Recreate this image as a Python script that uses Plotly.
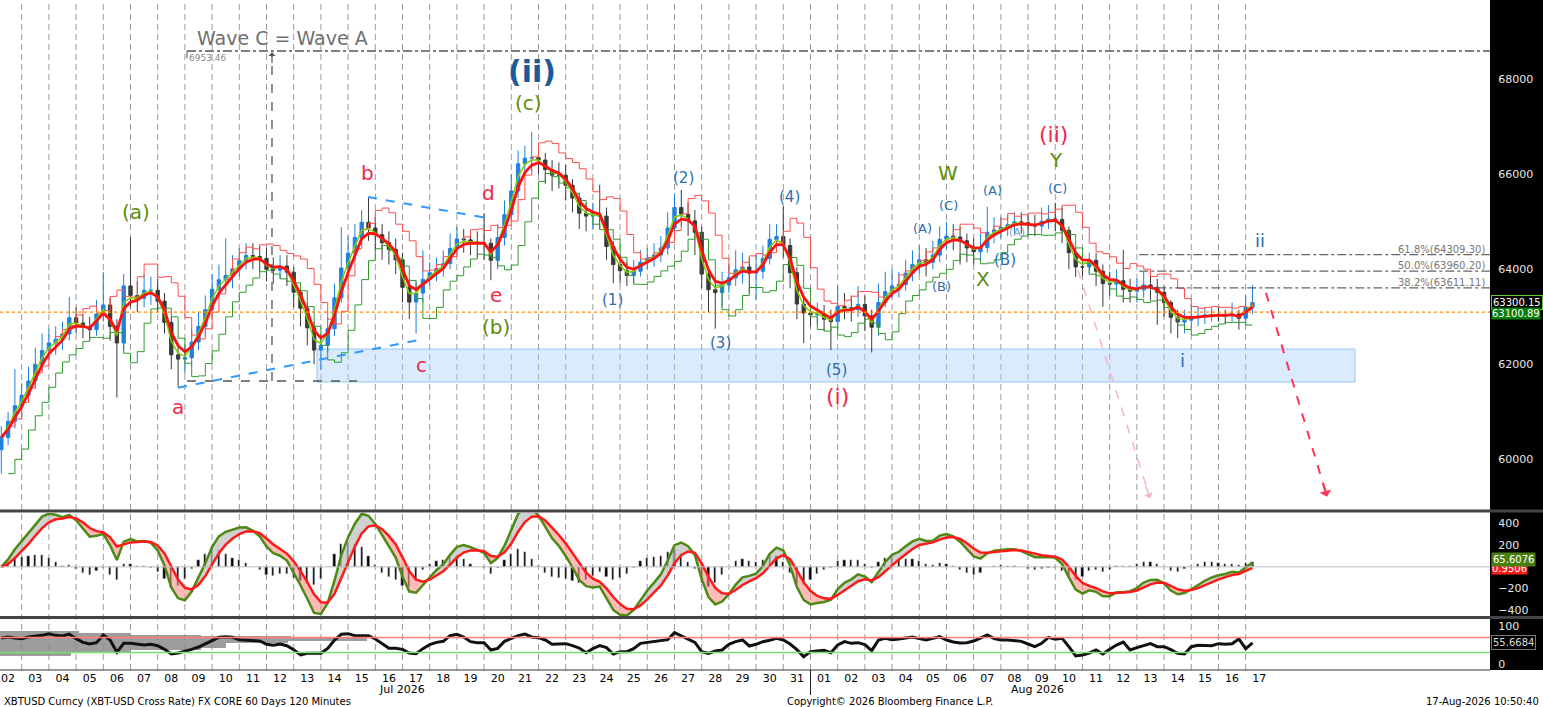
import numpy as np
import pandas as pd
import plotly.graph_objects as go

# 6-hour bars, XBTUSD
bar_start = "2026-07-02 06:00"
first_open = 60200
closes = [
    60460, 60800, 61130, 61350, 61650, 62000, 62290, 62450, 62530, 62640,
    62980, 62870, 62790, 62730, 63060, 63250, 62800, 62450, 63650, 63450,
    63390, 63560, 63560, 63330, 62880, 62200, 62110, 62140, 62470, 62800,
    63150, 63580, 63780, 63870, 64010, 64180, 64290, 64270, 64230, 64000,
    63980, 64070, 63940, 63520, 63180, 62770, 62300, 62400, 62750, 63400,
    64030, 64340, 64670, 64990, 64870, 64730, 64560, 64420, 64200, 63620,
    63310, 63500, 63790, 63930, 64020, 64120, 64440, 64640, 64620, 64570,
    64550, 64550, 64190, 64670, 65150, 65650, 66220, 66340, 66350, 66300,
    66100, 65980, 65980, 65770, 65500, 65180, 65120, 65130, 65120, 64480,
    64100, 63970, 63870, 63960, 64150, 64230, 64300, 64450, 64870, 65300,
    65160, 65020, 64780, 63900, 63570, 63510, 63670, 63820, 63990, 64050,
    63920, 63960, 64230, 64630, 64690, 64500, 63930, 63270, 63080, 63040,
    63060, 62950, 62900, 63220, 63190, 63150, 63260, 63020, 62780, 63300,
    63530, 63650, 63680, 63920, 64100, 64200, 64150, 64300, 64630, 64700,
    64680, 64600, 64450, 64370, 64460, 64780, 64830, 64880, 64940, 65000,
    64980, 64940, 64910, 65010, 65060, 65050, 64820, 64350, 64050, 64050,
    64190, 63960, 63700, 63690, 63760, 63580, 63540, 63570, 63670, 63620,
    63520, 63300, 62990, 62890, 62930, 62980, 63010, 63040, 63050, 63040,
    63020, 63060, 62970, 63200, 63300.15,
]
highs = [
    60700, 61000, 61900, 61600, 61950, 62350, 62650, 62750, 62800, 62900,
    63420, 63200, 63050, 63000, 63350, 63940, 63400, 62950, 63900, 64680,
    63750, 63900, 63850, 63800, 63500, 63000, 62450, 62400, 62750, 63100,
    63450, 63900, 64100, 64650, 64300, 64450, 64550, 64550, 64500, 64450,
    64250, 64300, 64300, 64050, 63700, 63300, 62900, 62650, 63000, 63700,
    64890, 64700, 64950, 65250, 65520, 65100, 64950, 64800, 64650, 64350,
    63800, 63750, 64400, 64150, 64250, 64400, 64750, 64900, 64850, 64800,
    64800, 65180, 64650, 64950, 65450, 66000, 66500, 66600, 66890, 66600,
    66450, 66300, 66250, 66200, 65900, 65600, 65400, 65400, 65780, 65300,
    64600, 64300, 64150, 64200, 64400, 64450, 64550, 64700, 65200, 65600,
    65670, 65400, 65250, 64900, 64000, 63800, 63950, 64100, 64400, 64350,
    64250, 64300, 64500, 64950, 64950, 65320, 64650, 64050, 63400, 63300,
    63300, 63250, 63150, 63650, 63500, 63450, 63650, 63450, 63150, 63700,
    63950, 64000, 63950, 64200, 64400, 64500, 64450, 64600, 64900, 65000,
    64950, 64900, 64750, 64650, 64750, 65320, 65100, 65100, 65150, 65200,
    65200, 65150, 65150, 65300, 65350, 65400, 65300, 64900, 64450, 64300,
    64350, 64340, 64100, 63950, 64000, 64410, 63800, 63800, 63950, 63950,
    63800, 63650, 63350, 63150, 63150, 63250, 63200, 63200, 63200, 63200,
    63150, 63300, 63150, 63450, 63670,
]
lows = [
    59700, 60300, 60650, 60900, 61200, 61500, 61850, 62100, 62200, 62300,
    62500, 62650, 62550, 62500, 62600, 62900, 62500, 61300, 62300, 63200,
    63100, 63200, 63250, 63100, 62650, 61900, 61520, 61800, 61950, 62300,
    62600, 63000, 63400, 63550, 63600, 63850, 64000, 64000, 63950, 63750,
    63700, 63800, 63650, 63200, 62800, 62400, 62000, 61880, 62250, 62600,
    63300, 63850, 64200, 64500, 64600, 64400, 64200, 64100, 63900, 63300,
    62950, 62650, 63300, 63650, 63750, 63850, 64000, 64300, 64350, 64300,
    64250, 64200, 63770, 64000, 64500, 65000, 65500, 66000, 66050, 66000,
    65800, 65650, 65700, 65450, 65200, 64850, 64800, 64850, 64850, 64200,
    63710, 63700, 63650, 63700, 63850, 64000, 64050, 64150, 64300, 64700,
    64900, 64700, 64300, 63600, 63100, 62750, 63200, 63500, 63650, 63700,
    63500, 63350, 63800, 64100, 64400, 64250, 63600, 62950, 62450, 62800,
    62850, 62700, 62300, 62750, 62950, 62900, 63000, 62700, 62250, 62600,
    63200, 63400, 63400, 63550, 63750, 63900, 63850, 64000, 64150, 64400,
    64400, 64100, 64150, 64100, 64150, 64350, 64550, 64650, 64700, 64750,
    64750, 64700, 64700, 64750, 64850, 64800, 64550, 64000, 63840, 63850,
    63900, 63650, 63210, 63450, 63500, 63300, 63300, 63300, 63400, 63350,
    62830, 63000, 62650, 62550, 62650, 62750, 62800, 62850, 62900, 62900,
    62850, 62900, 62730, 62850, 63050,
]
rsi_values = [
    68.4, 71.1, 68.4, 66.7, 71.1, 72.8, 75.4, 79.8, 75.4, 73.7,
    78.9, 66.7, 57.0, 52.6, 56.1, 76.3, 63.2, 30.7, 54.4, 54.4,
    52.6, 50.0, 51.8, 48.2, 38.6, 26.3, 29.0, 33.3, 38.6, 44.7,
    52.6, 61.4, 70.2, 71.9, 70.2, 64.0, 63.2, 62.3, 60.5, 51.8,
    49.1, 52.6, 48.2, 37.7, 23.7, 28.1, 28.1, 28.1, 41.2, 63.2,
    78.1, 79.8, 74.6, 73.7, 74.6, 65.8, 52.6, 41.2, 41.2, 38.6,
    29.0, 27.2, 40.4, 50.9, 57.0, 59.6, 74.6, 78.1, 71.1, 58.8,
    56.1, 56.1, 36.8, 41.2, 59.6, 67.5, 74.6, 78.9, 71.1, 69.3,
    63.2, 51.8, 52.6, 53.5, 48.2, 42.1, 29.8, 40.4, 48.2, 43.0,
    26.3, 32.5, 32.5, 40.4, 54.4, 57.0, 58.8, 61.4, 64.0, 82.5,
    74.6, 65.8, 57.0, 32.5, 28.1, 34.2, 36.8, 51.8, 58.8, 63.2,
    47.4, 51.8, 58.8, 62.3, 67.5, 63.2, 52.6, 37.7, 19.3, 32.5,
    35.1, 36.0, 29.8, 50.0, 58.8, 54.4, 56.1, 50.9, 35.1, 63.2,
    67.5, 64.0, 65.8, 69.3, 71.1, 66.7, 63.2, 67.5, 71.9, 63.2,
    57.9, 55.3, 56.1, 60.5, 68.4, 76.3, 66.7, 63.2, 63.2, 61.4,
    59.6, 52.6, 45.6, 54.4, 70.2, 64.9, 67.5, 45.6, 21.1, 23.7,
    29.0, 36.8, 26.3, 38.6, 50.0, 57.9, 36.8, 43.0, 49.1, 53.5,
    45.6, 45.6, 37.7, 28.1, 26.3, 45.6, 49.1, 49.1, 48.2, 53.5,
    51.8, 53.5, 66.0, 40.0, 55.6684,
]

# levels drawn on the chart
last_price = 63300.15
ref_price = 63100.89
wave_c_target = 68596
wave_a_low = 61649
fib_levels = [64309.30, 63960.20, 63611.11]
fib_names = ["61.8%", "50.0%", "38.2%"]
support_zone = (61628, 62323)
macd_last, signal_last, rsi_last = 65.6076, 0.9506, 55.6684

# grey horizontal distribution bars in the RSI pane (level, length in days)
rsi_band_level = [85, 80, 75, 70, 65, 60, 55, 50, 45, 40, 35, 30, 25]
rsi_band_days = [2.9, 4.8, 7.4, 10.7, 13.5, 10.6, 8.3, 8.3, 8.3, 7.4, 4.8, 2.6, 2.6]

day_labels = pd.date_range("2026-07-02 12:00", "2026-08-17 12:00", freq="D")
x_start, x_end = "2026-07-02 04:51", "2026-08-25 23:35"

times = pd.date_range(bar_start, periods=len(closes), freq="6h")
opens = [first_open] + closes[:-1]
close = pd.Series(closes, dtype=float)

ma_main = close.ewm(span=3, adjust=False).mean()
ma_fast = close.ewm(span=2, adjust=False).mean()
trail_hi = pd.Series(highs, dtype=float).rolling(3, min_periods=1).mean().shift(1)
trail_lo = pd.Series(lows, dtype=float).rolling(3, min_periods=1).mean().shift(1)

macd = close.ewm(span=4, adjust=False).mean() - close.ewm(span=9, adjust=False).mean()
signal = macd.ewm(span=4, adjust=False).mean()
hist = macd - signal

FONT = "DejaVu Sans"
RED = "#f2284b"
OLIVE = "#5e8c0a"
BLUE = "#2d6cb0"

fig = go.Figure()

# ---- price pane
fig.add_trace(go.Scatter(x=times, y=trail_hi, mode="lines", line=dict(color="#ff4d4d", width=1, shape="hv")))
fig.add_trace(go.Scatter(x=times, y=trail_lo, mode="lines", line=dict(color="#2e9a2e", width=1, shape="hv")))
fig.add_trace(go.Candlestick(
    x=times, open=opens, high=highs, low=lows, close=closes,
    increasing=dict(line=dict(color="#1f80e0", width=1), fillcolor="#1f80e0"),
    decreasing=dict(line=dict(color="#3a3a3a", width=1), fillcolor="#3a3a3a"),
    whiskerwidth=0,
))
fig.add_trace(go.Scatter(x=times, y=ma_fast, mode="lines", line=dict(color="#7fd000", width=1.5)))
fig.add_trace(go.Scatter(x=times, y=ma_main, mode="lines", line=dict(color="#ff1010", width=2.8)))

# ---- MACD pane
up_fill = np.where(macd >= signal, macd, signal)
dn_fill = np.where(macd < signal, macd, signal)
fig.add_trace(go.Bar(x=times, y=hist, marker_color="black", width=6 * 3600 * 1000 * 0.3,
                     xaxis="x2", yaxis="y2"))
fig.add_trace(go.Scatter(x=times, y=signal, mode="lines", line=dict(width=0), xaxis="x2", yaxis="y2"))
fig.add_trace(go.Scatter(x=times, y=up_fill, mode="lines", line=dict(width=0), fill="tonexty",
                         fillcolor="rgba(190,190,190,0.7)", xaxis="x2", yaxis="y2"))
fig.add_trace(go.Scatter(x=times, y=signal, mode="lines", line=dict(width=0), xaxis="x2", yaxis="y2"))
fig.add_trace(go.Scatter(x=times, y=dn_fill, mode="lines", line=dict(width=0), fill="tonexty",
                         fillcolor="rgba(255,140,140,0.6)", xaxis="x2", yaxis="y2"))
fig.add_trace(go.Scatter(x=times, y=macd, mode="lines", line=dict(color="#4d8a14", width=2.5),
                         xaxis="x2", yaxis="y2"))
fig.add_trace(go.Scatter(x=times, y=signal, mode="lines", line=dict(color="#ff1a1a", width=2.5),
                         xaxis="x2", yaxis="y2"))

# ---- RSI pane
fig.add_trace(go.Bar(
    y=rsi_band_level, x=[d * 86400000 for d in rsi_band_days], base=[x_start] * len(rsi_band_level),
    orientation="h", width=5, marker=dict(color="#8c8c8c", line=dict(width=0)), opacity=0.85,
    xaxis="x3", yaxis="y3",
))
fig.add_trace(go.Scatter(x=times, y=rsi_values, mode="lines", line=dict(color="#111111", width=3),
                         xaxis="x3", yaxis="y3"))

shapes = []
# daily grid (midnights) through all panes
for d in pd.date_range("2026-07-03", "2026-08-17", freq="D"):
    shapes.append(dict(type="line", xref="x", yref="paper", x0=d, x1=d, y0=0, y1=1,
                       line=dict(color="#9a9a9a", width=1, dash="6px,4px"), layer="below"))

shapes += [
    # support zone
    dict(type="rect", xref="x", yref="y", x0="2026-07-13 20:34", x1="2026-08-21 00:29",
         y0=support_zone[0], y1=support_zone[1], fillcolor="rgba(170,210,250,0.45)",
         line=dict(color="rgba(120,180,240,0.7)", width=1), layer="below"),
    # last-price dotted line
    dict(type="line", xref="paper", yref="y", x0=0, x1=1, y0=ref_price, y1=ref_price,
         line=dict(color="#ff8c00", width=1.2, dash="dot")),
    # Wave C = Wave A projection
    dict(type="line", xref="x", yref="y", x0="2026-07-09 01:51", x1=x_end, y0=wave_c_target, y1=wave_c_target,
         line=dict(color="#555555", width=1.3, dash="dashdot")),
    dict(type="line", xref="x", yref="y", x0="2026-07-09 01:51", x1="2026-07-09 01:51",
         y0=wave_c_target - 150, y1=wave_c_target, line=dict(color="#555555", width=1)),
    dict(type="line", xref="x", yref="y", x0="2026-07-09 01:51", x1="2026-07-15 07:55",
         y0=wave_a_low, y1=wave_a_low, line=dict(color="#555555", width=1.3, dash="dash")),
    dict(type="line", xref="x", yref="y", x0="2026-07-12 04:51", x1="2026-07-12 04:51",
         y0=wave_a_low, y1=wave_c_target - 30, line=dict(color="#555555", width=1.3, dash="dash")),
    # triangle boundaries
    dict(type="line", xref="x", yref="y", x0="2026-07-08 17:54", y0=61505, x1="2026-07-17 15:26", y1=62516,
         line=dict(color="#3399ff", width=2, dash="dash")),
    dict(type="line", xref="x", yref="y", x0="2026-07-15 17:34", y0=65522, x1="2026-07-20 02:34", y1=65080,
         line=dict(color="#3399ff", width=2, dash="dash")),
    # projected paths
    dict(type="line", xref="x", yref="y", x0="2026-08-10 20:04", y0=63980, x1="2026-08-13 11:34", y1=59189,
         line=dict(color="#f7b3c2", width=1.5, dash="dash")),
    dict(type="line", xref="x", yref="y", x0="2026-08-17 17:54", y0=63507, x1="2026-08-19 23:46", y1=59211,
         line=dict(color="#ff3355", width=2, dash="dash")),
    # MACD zero line
    dict(type="line", xref="paper", yref="y2", x0=0, x1=1, y0=0, y1=0, line=dict(color="#bbbbbb", width=1)),
    # RSI 70 / 30
    dict(type="line", xref="paper", yref="y3", x0=0, x1=1, y0=70, y1=70, line=dict(color="#ff7f7f", width=1.5)),
    dict(type="line", xref="paper", yref="y3", x0=0, x1=1, y0=30, y1=30, line=dict(color="#77dd77", width=1.5)),
    # black axis strip on the right
    dict(type="rect", xref="paper", yref="paper", x0=1, x1=1.0356, y0=0, y1=1,
         fillcolor="black", line=dict(width=0), layer="below"),
    # pane separators
    dict(type="line", xref="paper", yref="paper", x0=0, x1=1.0356, y0=0.2373, y1=0.2373,
         line=dict(color="#444444", width=3)),
    dict(type="line", xref="paper", yref="paper", x0=0, x1=1.0356, y0=0.0784, y1=0.0784,
         line=dict(color="#444444", width=3)),
    dict(type="line", xref="paper", yref="paper", x0=0, x1=1, y0=0, y1=0, line=dict(color="#333333", width=1)),
    # month break marker
    dict(type="line", xref="x", yref="paper", x0="2026-08-01", x1="2026-08-01", y0=0, y1=-0.0373,
         line=dict(color="#222222", width=1)),
]
fib_x0 = "2026-08-13 02:07"
for lvl in fib_levels:
    shapes.append(dict(type="line", xref="x", yref="y", x0=fib_x0, x1=x_end, y0=lvl, y1=lvl,
                       line=dict(color="#666666", width=1.2, dash="dashdot")))

wave_labels = [
    ("(a)", "2026-07-07 04:50", 65207, OLIVE, 20),
    ("a", "2026-07-08 17:54", 61104, RED, 20),
    ("b", "2026-07-15 16:41", 66028, RED, 20),
    ("c", "2026-07-17 17:12", 61986, RED, 20),
    ("d", "2026-07-20 04:19", 65607, RED, 20),
    ("e", "2026-07-20 10:29", 63460, RED, 20),
    ("(b)", "2026-07-20 10:50", 62787, OLIVE, 20),
    ("(c)", "2026-07-21 15:37", 67501, OLIVE, 20),
    ("(1)", "2026-07-24 17:44", 63354, BLUE, 15),
    ("(2)", "2026-07-27 08:22", 65922, BLUE, 15),
    ("(3)", "2026-07-28 17:02", 62449, BLUE, 15),
    ("(4)", "2026-07-31 05:54", 65522, BLUE, 15),
    ("(5)", "2026-08-01 23:22", 61881, BLUE, 15),
    ("(i)", "2026-08-02 00:14", 61313, RED, 22),
    ("(A)", "2026-08-05 03:16", 64849, BLUE, 13),
    ("(B)", "2026-08-05 20:02", 63628, BLUE, 13),
    ("(C)", "2026-08-06 01:21", 65354, BLUE, 13),
    ("W", "2026-08-06 01:21", 66028, OLIVE, 20),
    ("(A)", "2026-08-07 17:02", 65649, BLUE, 13),
    ("X", "2026-08-07 08:10", 63796, OLIVE, 20),
    ("(B)", "2026-08-08 03:37", 64196, BLUE, 15),
    ("(A)", "2026-08-08 14:10", 64785, "#7f9fc4", 11),
    ("(C)", "2026-08-10 02:22", 65691, BLUE, 13),
    ("Y", "2026-08-10 00:36", 66301, OLIVE, 20),
    ("(ii)", "2026-08-09 22:51", 66848, RED, 22),
    ("ii", "2026-08-17 12:38", 64617, BLUE, 18),
    ("i", "2026-08-14 15:50", 62091, BLUE, 18),
]
annotations = [dict(x=x, y=y, xref="x", yref="y", text=t, showarrow=False,
                    font=dict(family=FONT, size=s, color=c)) for t, x, y, c, s in wave_labels]
annotations += [
    dict(x="2026-07-21 18:16", y=68154, xref="x", yref="y", text="<b>(ii)</b>", showarrow=False,
         font=dict(family=FONT, size=30, color="#1d5a9c")),
    dict(x="2026-07-09 08:54", y=68869, xref="x", yref="y", text="Wave C = Wave A", showarrow=False,
         xanchor="left", font=dict(family=FONT, size=19, color="#707070")),
    dict(x="2026-07-09 02:00", y=68448, xref="x", yref="y", text="6953.46", showarrow=False,
         xanchor="left", font=dict(family=FONT, size=9, color="#8a8a8a")),
    # arrow heads
    dict(x="2026-07-12 04:51", y=wave_c_target - 30, xref="x", yref="y", text="", showarrow=True,
         ax=0, ay=12, arrowhead=1, arrowsize=1, arrowwidth=1.2, arrowcolor="#555555"),
    dict(x="2026-08-13 11:34", y=59189, xref="x", yref="y", text="", showarrow=True,
         ax=-5, ay=-14, arrowhead=1, arrowsize=1, arrowwidth=1.5, arrowcolor="#f7b3c2"),
    dict(x="2026-08-19 23:46", y=59211, xref="x", yref="y", text="", showarrow=True,
         ax=-4, ay=-14, arrowhead=1, arrowsize=1, arrowwidth=2, arrowcolor="#ff3355"),
]
for name, lvl in zip(fib_names, fib_levels):
    annotations.append(dict(x=0.998, y=lvl, xref="paper", yref="y", text=f"{name}({lvl:.2f})",
                            showarrow=False, xanchor="right", yanchor="bottom", yshift=-2,
                            font=dict(family=FONT, size=10, color="#777777")))
# right-hand value badges
badge_font = dict(family=FONT, size=10, color="white")
annotations += [
    dict(x=1.001, y=last_price, xref="paper", yref="y", text=f"{last_price:.2f}", showarrow=False,
         xanchor="left", bgcolor="black", bordercolor="#66cc33", borderwidth=1, borderpad=1, font=badge_font),
    dict(x=1.001, y=ref_price - 30, xref="paper", yref="y", text=f"{ref_price:.2f}", showarrow=False,
         xanchor="left", bgcolor="#0b7d0b", borderpad=0, font=badge_font),
    dict(x=1.001, y=signal_last - 12, xref="paper", yref="y2", text=f"{signal_last:.4f}", showarrow=False,
         xanchor="left", bgcolor="#ff1a1a", borderpad=0, font=badge_font),
    dict(x=1.001, y=macd_last, xref="paper", yref="y2", text=f"{macd_last:.4f}", showarrow=False,
         xanchor="left", bgcolor="#4a7f10", borderpad=1, font=badge_font),
    dict(x=1.001, y=rsi_last, xref="paper", yref="y3", text=f"{rsi_last:.4f}", showarrow=False,
         xanchor="left", bgcolor="black", bordercolor="#777777", borderwidth=1, borderpad=1,
         font=dict(family=FONT, size=10, color="#dddddd")),
]
footer = dict(xref="paper", yref="paper", showarrow=False, yanchor="middle",
              font=dict(family=FONT, size=10, color="black"))
annotations += [
    dict(footer, x=0.2698, y=-0.0284, xanchor="center", text="Jul 2026", font=dict(family=FONT, size=11, color="black")),
    dict(footer, x=0.696, y=-0.0284, xanchor="center", text="Aug 2026", font=dict(family=FONT, size=11, color="black")),
    dict(footer, x=0.0013, y=-0.0463, xanchor="left",
         text="XBTUSD Curncy (XBT-USD Cross Rate) FX CORE 60 Days 120 Minutes"),
    dict(footer, x=0.5268, y=-0.0463, xanchor="left", text="Copyright\u00a9 2026 Bloomberg Finance L.P."),
    dict(footer, x=1.0342, y=-0.0463, xanchor="right", text="17-Aug-2026 10:50:40"),
]

xcommon = dict(type="date", range=[x_start, x_end], showgrid=False, zeroline=False, showline=False)
ycommon = dict(side="right", showgrid=False, zeroline=False, ticks="outside", ticklen=5, tickcolor="black",
               tickformat="d", tickfont=dict(family=FONT, size=11, color="#e6e6e6"))

fig.update_layout(
    width=1543, height=707,
    margin=dict(l=0, r=53, t=0, b=37),
    paper_bgcolor="white", plot_bgcolor="white",
    showlegend=False, bargap=0,
    font=dict(family=FONT),
    xaxis=dict(domain=[0, 1], anchor="y", showticklabels=False, rangeslider=dict(visible=False), **xcommon),
    xaxis2=dict(domain=[0, 1], anchor="y2", matches="x", showticklabels=False, **xcommon),
    xaxis3=dict(domain=[0, 1], anchor="y3", matches="x", tickmode="array", tickvals=list(day_labels),
                ticktext=[d.strftime("%d") for d in day_labels], ticks="",
                tickfont=dict(family=FONT, size=11, color="black"), **xcommon),
    yaxis=dict(domain=[0.2403, 1], range=[58955, 69669], tickvals=[60000, 62000, 64000, 66000, 68000], **ycommon),
    yaxis2=dict(domain=[0.0806, 0.2343], range=[-452, 495], tickvals=[-400, -200, 200, 400], **ycommon),
    yaxis3=dict(domain=[0, 0.0761], range=[-15.8, 118.4], tickvals=[0, 100], **ycommon),
    shapes=shapes,
    annotations=annotations,
)

fig.write_html("out.html", config={"displayModeBar": False},
               post_script="document.body.style.margin = '0';")
